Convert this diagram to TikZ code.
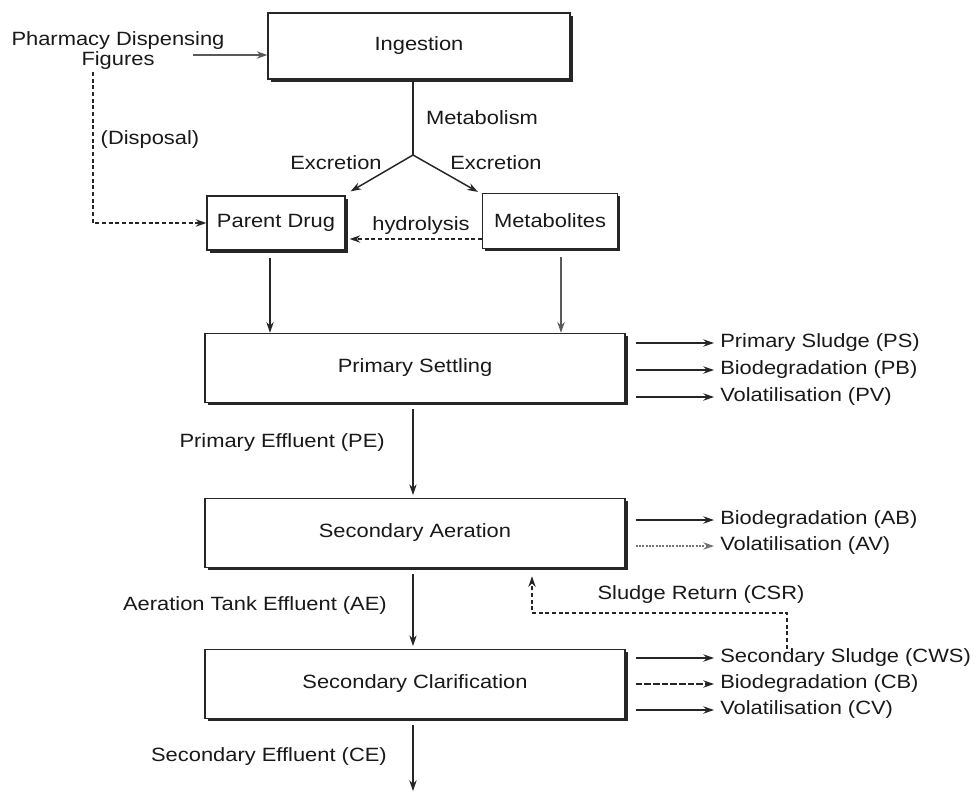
\documentclass[tikz,border=0pt]{standalone}
\usepackage{fontspec}
\setmainfont{Liberation Sans}[FakeStretch=1.14]
\usetikzlibrary{arrows.meta,calc,shadows}

\begin{document}
\begin{tikzpicture}[x=0.75pt,y=-0.75pt,
  every node/.style={font=\fontsize{14.4}{15}\selectfont, inner sep=0pt, text=black!90},
  box/.style={draw=black!85, fill=white, line width=0.9pt,
    drop shadow={shadow xshift=2pt, shadow yshift=-2pt, opacity=1, fill=black!85}},
  bigbox/.style={box, minimum width=315pt, minimum height=52pt},
  link/.style={line width=1.1pt, draw=black!85},
  arr/.style={link, -{Stealth[length=8pt,width=5.5pt]}},
  dasharr/.style={arr, dash pattern=on 3pt off 2pt},
  dotarr/.style={arr, draw=black!55, dash pattern=on 1.5pt off 1pt},
  outlbl/.style={anchor=west}
]
\fill[white] (0,0) rectangle (976,794);
\useasboundingbox (0,0) rectangle (976,794);

% --- source and intake ---
\node[box, minimum width=226.5pt, minimum height=49.5pt] (ing) at (419,46) {Ingestion};
\node[align=center] (phar) at (118,51) {Pharmacy Dispensing\\Figures};
\coordinate (pa) at (193,55);
\draw[arr, draw=black!65] (pa) -- (pa -| ing.west);

% --- metabolism split ---
\coordinate (br) at (413,155);
\draw[link] (ing.south -| br) -- (br);
\node (metab) at (482,118) {Metabolism};

\node[box, minimum width=103.5pt, minimum height=40.5pt] (pd) at (276,223) {Parent Drug};
\node[box, minimum width=101.25pt, minimum height=41.25pt] (met) at (550,221) {Metabolites};

\draw[arr] (br) -- ($(pd.north east)+(5,-4)$);
\draw[arr] (br) -- ($(met.north west)+(-4,-1)$);
\node (exl) at (336,163) {Excretion};
\node (exr) at (496,163) {Excretion};

% disposal route
\coordinate (d0) at (93,72);
\draw[dasharr] (d0) |- (pd.west);
\node (disp) at (150,140) {(Disposal)};

% hydrolysis back to parent drug
\draw[dasharr] ($(met.west)+(0,18)$) -- ($(pd.east)+(4,16)$);
\node (hyd) at (421,226) {hydrolysis};

% --- treatment stages ---
\node[bigbox] (ps) at (415,368) {Primary Settling};
\node[bigbox] (sa) at (415,533) {Secondary Aeration};
\node[bigbox] (sc) at (415,684) {Secondary Clarification};

\coordinate (pdb) at ($(pd.south)+(-6,7)$);
\coordinate (mb) at ($(met.south)+(11,8)$);
\draw[arr] (pdb) -- (pdb |- ps.north);
\draw[arr, draw=black!65] (mb) -- (mb |- ps.north);

% primary settling outputs
\node[outlbl] (psa) at (720,343) {Primary Sludge (PS)};
\node[outlbl] (psb) at (720,370) {Biodegradation (PB)};
\node[outlbl] (psc) at (720,397) {Volatilisation (PV)};
\foreach \n in {psa,psb,psc}
  \draw[arr] ($(ps.east |- \n.west)+(10,0)$) -- ($(\n.west)+(-6,0)$);

\draw[arr, shorten <=4.5pt, shorten >=2pt] (ps.south -| br) -- (sa.north -| br);
\node[anchor=east] (pe) at (385,443) {Primary Effluent (PE)};

% secondary aeration outputs
\node[outlbl] (saa) at (720,520) {Biodegradation (AB)};
\node[outlbl] (sab) at (720,546) {Volatilisation (AV)};
\draw[arr] ($(sa.east |- saa.west)+(10,0)$) -- ($(saa.west)+(-6,0)$);
\draw[dotarr] ($(sa.east |- sab.west)+(10,0)$) -- ($(sab.west)+(-6,0)$);

\draw[arr, shorten <=4.5pt, shorten >=2pt] (sa.south -| br) -- (sc.north -| br);
\node[anchor=east] (ae) at (387,606) {Aeration Tank Effluent (AE)};

% secondary clarification outputs
\node[outlbl] (sca) at (720,658) {Secondary Sludge (CWS)};
\node[outlbl] (scb) at (720,684) {Biodegradation (CB)};
\node[outlbl] (scc) at (720,710) {Volatilisation (CV)};
\draw[arr] ($(sc.east |- sca.west)+(10,0)$) -- ($(sca.west)+(-6,0)$);
\draw[arr, dash pattern=on 5pt off 1.5pt] ($(sc.east |- scb.west)+(10,0)$) -- ($(scb.west)+(-6,0)$);
\draw[arr] ($(sc.east |- scc.west)+(10,0)$) -- ($(scc.west)+(-6,0)$);

% sludge return loop
\coordinate (sr1) at (787,613);
\coordinate (sr0) at (532,613);
\draw[dasharr, shorten >=6pt] (sca.north -| sr1) -- (sr1) -- (sr0) -- (sr0 |- sa.south);
\node (srl) at (701,595) {Sludge Return (CSR)};

% final effluent
\coordinate (out) at (413,791);
\draw[arr, shorten <=4.5pt] (sc.south -| out) -- (out);
\node[anchor=east] (ce) at (387,757) {Secondary Effluent (CE)};
\end{tikzpicture}
\end{document}
